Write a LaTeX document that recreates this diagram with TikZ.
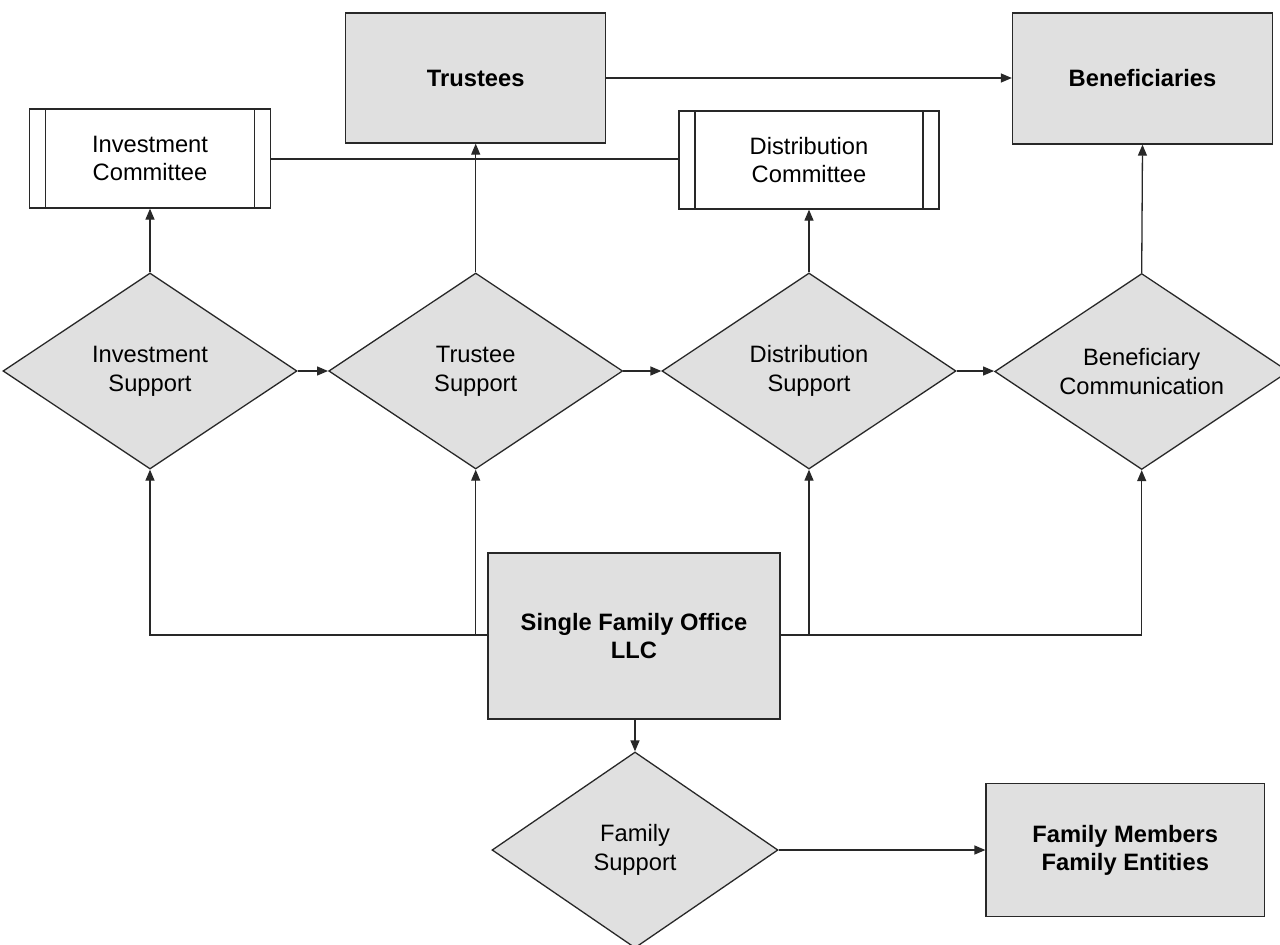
\documentclass[tikz,border=0pt]{standalone}
\usepackage{fontspec}
\setmainfont{Liberation Sans}
\usetikzlibrary{shapes.geometric,arrows.meta}
\definecolor{boxfill}{RGB}{224,224,224}
\definecolor{inkline}{RGB}{40,40,40}
\begin{document}
\begin{tikzpicture}[x=1pt,y=-1pt,
  every node/.style={font=\fontsize{23.7}{28.8}\selectfont, text=black, align=center},
  conn/.style={draw=inkline, line width=1.3pt},
  arr/.style={conn, -{Triangle[length=11pt,width=9pt]}},
  solidbox/.style={draw=inkline, line width=1.3pt, fill=boxfill, rectangle, inner sep=0pt,
    font=\fontsize{23.7}{28.8}\selectfont\bfseries},
  committee/.style={draw=inkline, line width=1.3pt, fill=white, rectangle, inner sep=0pt,
    path picture={
      \draw[inkline, line width=1.3pt]
        ([xshift=16pt]path picture bounding box.north west) -- ([xshift=16pt]path picture bounding box.south west)
        ([xshift=-16pt]path picture bounding box.north east) -- ([xshift=-16pt]path picture bounding box.south east);}},
  decision/.style={draw=inkline, line width=1.3pt, fill=boxfill, diamond, inner sep=0pt,
    shape aspect=1.5, minimum width=294pt, minimum height=196pt}
]
\useasboundingbox (0,0) rectangle (1280,945);
\fill[white] (0,0) rectangle (1280,945);

% top row of boxes
\node[solidbox, minimum width=260pt, minimum height=130pt] (trustees) at (475.7,78) {Trustees};
\node[solidbox, minimum width=260pt, minimum height=131pt] (benef) at (1142.5,78.5) {Beneficiaries};

% committees
\node[committee, minimum width=241pt, minimum height=99pt] (invcom) at (150,158.5) {Investment\\Committee};
\node[committee, minimum width=260pt, minimum height=98pt] (distcom) at (809,160) {Distribution\\Committee};

% support functions
\node[decision] (invsup) at (150,371) {Investment\\Support};
\node[decision] (trustsup) at (475.7,371) {Trustee\\Support};
\node[decision] (distsup) at (809,371) {Distribution\\Support};
\node[decision] (bencom) at (1141.7,371.5) {Beneficiary\\Communication};

% the office and family side
\node[solidbox, minimum width=292pt, minimum height=166pt] (sfo) at (634,636) {Single Family Office\\LLC};
\node[decision, minimum width=286pt] (famsup) at (635,850) {Family\\Support};
\node[solidbox, minimum width=278.5pt, minimum height=133pt] (fam) at (1125.3,850.3) {Family Members\\Family Entities};

% junction points on the office feed line
\coordinate (jl) at (475.7,635);
\coordinate (jr) at (809,635);

% connectors
\draw[arr] (trustees.east) -- (benef.west |- trustees.east);
\draw[conn] (invcom.east |- 0,159) -- (distcom.west |- 0,159);

\draw[arr] (invsup.north) -- (invcom.south);
\draw[arr] (trustsup.north) -- (trustees.south);
\draw[arr] (distsup.north) -- (distcom.south);
\draw[arr] (bencom.north) -- (benef.south);

\draw[arr] (invsup.east) -- (trustsup.west);
\draw[arr] (trustsup.east) -- (distsup.west);
\draw[arr] (distsup.east) -- (bencom.west |- distsup.east);

\draw[conn] (sfo.west |- jl) -- (jl);
\draw[arr] (jl) -- (trustsup.south);
\draw[arr] (jl) -| (invsup.south);
\draw[conn] (sfo.east |- jr) -- (jr);
\draw[arr] (jr) -- (distsup.south);
\draw[arr] (jr) -| (bencom.south);

\draw[arr] (sfo.south -| famsup.north) -- (famsup.north);
\draw[arr] (famsup.east) -- (fam.west |- famsup.east);
\end{tikzpicture}
\end{document}
